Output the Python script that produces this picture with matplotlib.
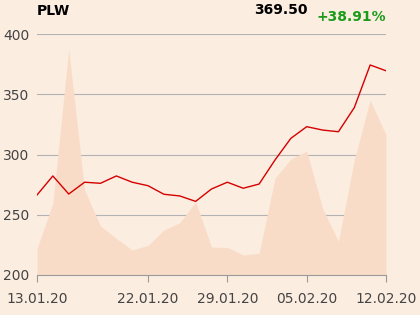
import matplotlib
matplotlib.use("Agg")
import matplotlib.pyplot as plt

# --- data ---
dates = ["13.01", "14.01", "15.01", "16.01", "17.01", "20.01", "21.01", "22.01",
         "23.01", "24.01", "27.01", "28.01", "29.01", "30.01", "31.01", "03.02",
         "04.02", "05.02", "06.02", "07.02", "10.02", "11.02", "12.02"]
price = [266.4, 282.2, 267.2, 277.0, 276.1, 282.2, 277.0, 274.1, 267.0, 265.6,
         261.1, 271.4, 277.0, 272.0, 275.5, 295.4, 313.4, 323.1, 320.3, 318.9,
         338.9, 374.3, 369.5]
volume = [222.0, 259.5, 387.6, 270.5, 240.7, 230.4, 220.7, 224.6, 237.3, 243.4,
          260.8, 223.2, 222.9, 216.6, 218.0, 280.2, 296.3, 302.9, 255.3, 227.9,
          295.4, 345.2, 316.2]
tick_idx = [0, 7, 12, 17, 22]
tick_labels = ["13.01.20", "22.01.20", "29.01.20", "05.02.20", "12.02.20"]
y_ticks = [200, 250, 300, 350, 400]

bg = "#fcede1"
x = list(range(len(dates)))

fig = plt.figure(figsize=(4.2, 3.15), dpi=100, facecolor=bg)
ax = fig.add_axes([0.0881, 0.127, 0.831, 0.765], facecolor=bg)

ax.fill_between(x, volume, 200, color="#f9dcc7", lw=0, zorder=1)
ax.plot(x, price, color="#d40000", lw=1.0, zorder=3)

ax.set_xlim(0, len(dates) - 1)
ax.set_ylim(200, 400)
ax.set_yticks(y_ticks)
ax.grid(axis="y", color="#b3b3b3", lw=0.8, zorder=0)
ax.set_axisbelow(True)
ax.set_xticks(tick_idx)
ax.set_xticklabels(tick_labels)

for s in ["top", "right", "left"]:
    ax.spines[s].set_visible(False)
ax.spines["bottom"].set_color("#999999")
ax.spines["bottom"].set_linewidth(0.8)
ax.tick_params(axis="y", length=0, pad=5.5, labelsize=10, labelcolor="#444444")
ax.tick_params(axis="x", length=5, color="#999999", width=0.8, pad=7,
               labelsize=10, labelcolor="#444444")

fig.text(37 / 420, 1 - 11 / 315, "PLW", fontsize=10, fontweight="bold",
         ha="left", va="center", color="black")
fig.text(308 / 420, 1 - 10 / 315, "369.50", fontsize=10, fontweight="bold",
         ha="right", va="center", color="black")
fig.text(386 / 420, 1 - 17 / 315, "+38.91%", fontsize=10, fontweight="bold",
         ha="right", va="center", color="#1a9c1a")

fig.savefig("out.png", dpi=100, facecolor=bg)
